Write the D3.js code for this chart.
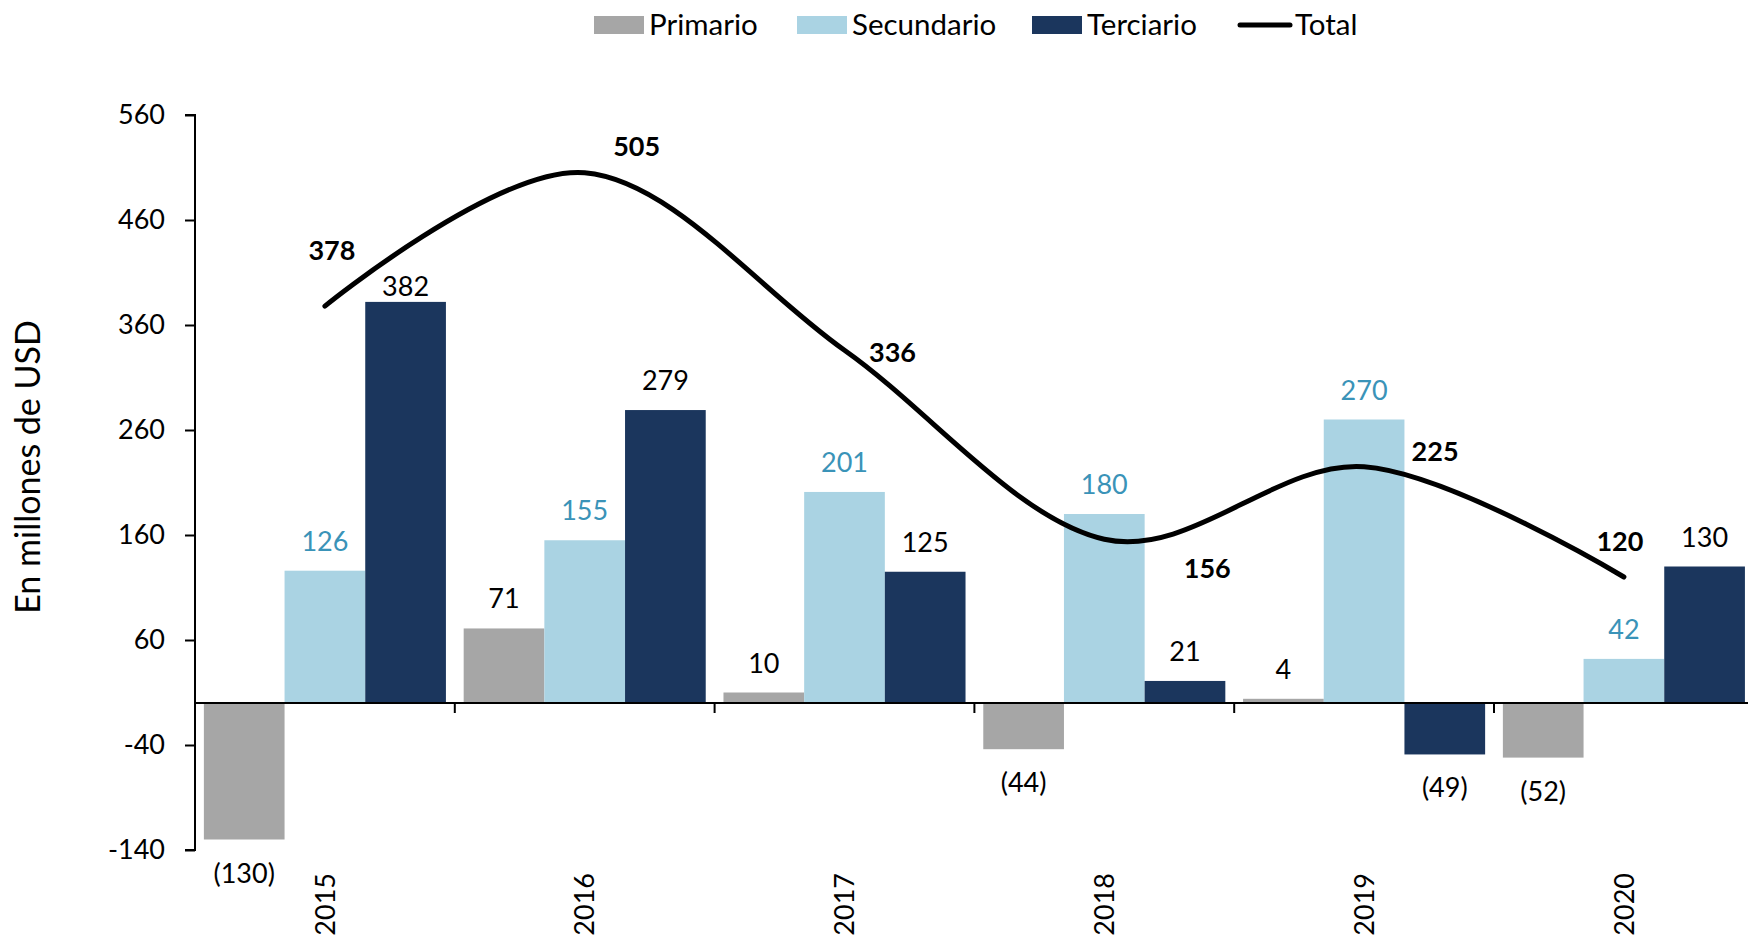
<!DOCTYPE html>
<html>
<head>
<meta charset="utf-8">
<script src="https://cdn.jsdelivr.net/npm/d3@7"></script>
<style>
  html, body { margin: 0; padding: 0; background: #fff; }
  svg { display: block; font-family: Lato, "Open Sans", sans-serif; }
</style>
</head>
<body>
<svg id="chart" width="1748" height="937"></svg>
<script>
// ---- data ----
const years = ["2015", "2016", "2017", "2018", "2019", "2020"];
const seriesNames = ["Primario", "Secundario", "Terciario"];
const primario = [-130, 71, 10, -44, 4, -52];
const secundario = [126, 155, 201, 180, 270, 42];
const terciario = [382, 279, 125, 21, -49, 130];
const total = [378, 505, 336, 156, 225, 120];
const yTicks = [-140, -40, 60, 160, 260, 360, 460, 560];

// ---- styles / layout ----
const colors = { Primario: "#a6a6a6", Secundario: "#aad3e3", Terciario: "#1b365d" };
const labelColors = { Primario: "#000", Secundario: "#3a93b8", Terciario: "#000" };
// pixel nudges for the bold total labels (dx, dy from the line point)
const totalLabelNudge = [[7, -46], [52, -17], [48, 12], [103, 39], [71, -6], [-4, -26]];
// special nudge for a bar label that sits close to its bar
const barLabelNudge = { "2015-Terciario": 14 };

(function () {
const svg = d3.select("#chart");
const mLeft = 195, mTop = 115, mBottom = 850;
const catStep = 259.8;
const fs = 27;

const x = d3.scaleBand().domain(years).range([mLeft, mLeft + catStep * years.length]).padding(0);
const xs = d3.scaleBand().domain(seriesNames).range([0, x.bandwidth()]).paddingInner(0).paddingOuter(0.11);
const y = d3.scaleLinear().domain([-140, 560]).range([mBottom, mTop]);

const seriesData = { Primario: primario, Secundario: secundario, Terciario: terciario };
const bars = [];
seriesNames.forEach(s => years.forEach((yr, i) => bars.push({ s, yr, v: seriesData[s][i] })));

// bars
svg.append("g").selectAll("rect").data(bars).join("rect")
  .attr("x", d => x(d.yr) + xs(d.s))
  .attr("width", xs.bandwidth())
  .attr("y", d => y(Math.max(0, d.v)))
  .attr("height", d => Math.abs(y(d.v) - y(0)))
  .attr("fill", d => colors[d.s]);

// y axis
const yAxis = d3.axisLeft(y).tickValues(yTicks).tickSize(10).tickPadding(20).tickFormat(d => String(d));
const gy = svg.append("g").attr("transform", `translate(${mLeft},0)`).call(yAxis);
gy.select(".domain").attr("stroke", "#000").attr("stroke-width", 2).attr("d", `M-10,${y(-140)}H0V${y(560)}H-10`);
gy.selectAll(".tick line").attr("stroke", "#000").attr("stroke-width", 2);
gy.selectAll(".tick text").attr("font-size", fs).attr("fill", "#000").attr("font-family", "Lato, sans-serif");

// x axis at zero with ticks at category boundaries
const gx = svg.append("g");
gx.append("line").attr("x1", mLeft).attr("x2", mLeft + catStep * years.length)
  .attr("y1", y(0)).attr("y2", y(0)).attr("stroke", "#000").attr("stroke-width", 2);
gx.selectAll("line.sep").data(years.slice(1)).join("line").attr("class", "sep")
  .attr("x1", d => x(d)).attr("x2", d => x(d))
  .attr("y1", y(0)).attr("y2", y(0) + 10).attr("stroke", "#000").attr("stroke-width", 2);

// x labels (rotated)
svg.append("g").selectAll("text").data(years).join("text")
  .attr("transform", d => `translate(${x(d) + x.bandwidth() / 2},873) rotate(-90)`)
  .attr("text-anchor", "end").attr("dy", "0.36em")
  .attr("font-size", fs).attr("fill", "#000").text(d => d);

// bar labels
const fmt = v => v < 0 ? `(${Math.abs(v)})` : `${v}`;
svg.append("g").selectAll("text").data(bars).join("text")
  .attr("x", d => x(d.yr) + xs(d.s) + xs.bandwidth() / 2)
  .attr("y", d => {
    const nudge = barLabelNudge[`${d.yr}-${d.s}`] || 0;
    return d.v >= 0 ? y(d.v) - 20 + nudge : y(d.v) + 43;
  })
  .attr("text-anchor", "middle").attr("font-size", fs)
  .attr("fill", d => labelColors[d.s]).text(d => fmt(d.v));

// total line
const cx = i => x(years[i]) + x.bandwidth() / 2;
const line = d3.line().x((d, i) => cx(i)).y(d => y(d)).curve(d3.curveCardinal.tension(0));
svg.append("path").datum(total).attr("d", line)
  .attr("fill", "none").attr("stroke", "#000").attr("stroke-width", 5).attr("stroke-linecap", "round");

svg.append("g").selectAll("text").data(total).join("text")
  .attr("x", (d, i) => cx(i) + totalLabelNudge[i][0])
  .attr("y", (d, i) => y(d) + totalLabelNudge[i][1])
  .attr("text-anchor", "middle").attr("font-size", fs).attr("font-weight", "bold")
  .attr("fill", "#000").text(d => d);

// y axis title
svg.append("text").attr("transform", `translate(28,467) rotate(-90)`)
  .attr("text-anchor", "middle").attr("dy", "0.35em").attr("font-size", 34).attr("fill", "#000")
  .text("En millones de USD");

// legend
const legendItems = [
  { name: "Primario", x: 594, type: "rect" },
  { name: "Secundario", x: 797, type: "rect" },
  { name: "Terciario", x: 1032, type: "rect" },
  { name: "Total", x: 1240, type: "line" }
];
const lg = svg.append("g");
legendItems.forEach(it => {
  if (it.type === "rect") {
    lg.append("rect").attr("x", it.x).attr("y", 16).attr("width", 50).attr("height", 18).attr("fill", colors[it.name]);
  } else {
    lg.append("line").attr("x1", it.x).attr("x2", it.x + 50).attr("y1", 25).attr("y2", 25)
      .attr("stroke", "#000").attr("stroke-width", 5).attr("stroke-linecap", "round");
  }
  lg.append("text").attr("x", it.x + 55).attr("y", 35).attr("font-size", 29.5).attr("fill", "#000").text(it.name);
});
})();
</script>
</body>
</html>
